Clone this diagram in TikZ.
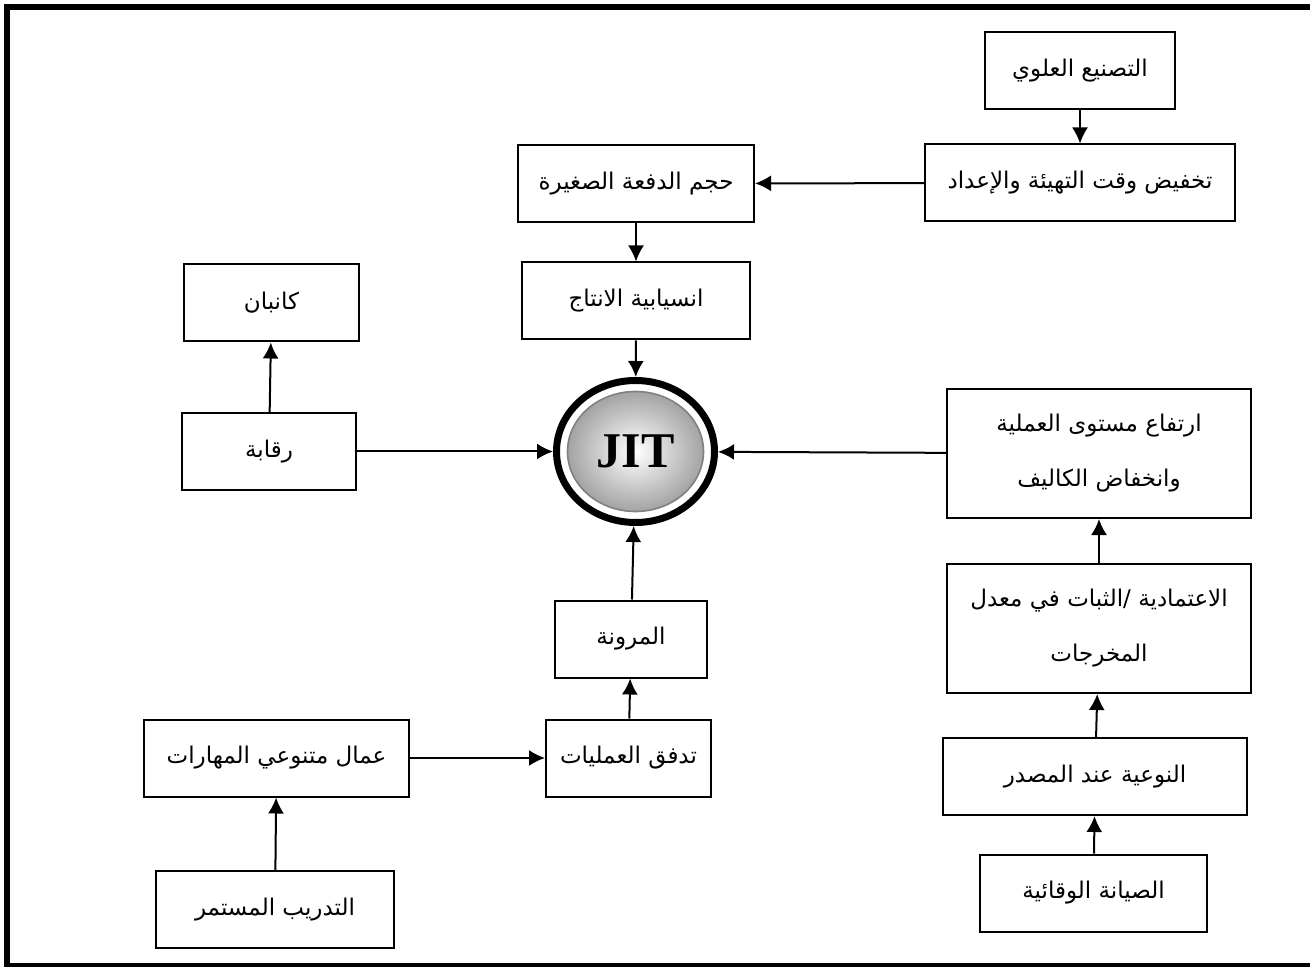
\documentclass[tikz,border=0pt]{standalone}
\usepackage{fontspec}
\setmainfont{Liberation Serif}
\newfontfamily\arabicfont[Script=Arabic]{DejaVu Sans}
\TeXXeTstate=1
\usepackage{tikz}
\usetikzlibrary{
  arrows.meta,
  shapes.geometric,
  chains,
  scopes,
  positioning
}

\begin{document}
\begin{tikzpicture}[
      x=0.5pt, y=-0.5pt,
      block/.style={
         rectangle,
         draw=black,
         line width=1pt,
         minimum height=38.5pt,
         inner sep=2pt,
         font=\arabicfont\fontsize{11.5}{13.5}\selectfont
      },
      tallblock/.style={
         block,
         minimum height=64.5pt,
         align=center
      },
      hub/.style={
         ellipse,
         draw=black,
         line width=3.5pt,
         minimum width=79pt,
         minimum height=71pt,
         inner sep=0pt,
         font=\bfseries\fontsize{25}{28}\selectfont
      },
      >={Latex[length=8pt,width=8pt]},line width=1pt,
      tip/.style={->}
    ]
    \useasboundingbox (0,0) rectangle (1310,967);
    \begin{scope}
      \clip (0,0) rectangle (1310,967);
      \draw[line width=3pt] (7,7.5) rectangle (1316,966);
    \end{scope}
    % centre
    \coordinate (jitc) at (635.5,451.5);
    \shade[inner color=white, outer color=black!36, draw=black!50, line width=0.8pt]
       (jitc) ellipse [x radius=68, y radius=60];
    \node (jit) [hub] at (jitc) {JIT};
    % top
    \node (tasnie)  [block, minimum width=95pt]   at (1080,71)    {\beginR التصنيع العلوي\endR};
    \node (takhfid) [block, minimum width=155pt]  at (1080,183)   {\beginR تخفيض وقت التهيئة والإعداد\endR};
    \node (hajm)    [block, minimum width=118pt]  at (636,183.5)  {\beginR حجم الدفعة الصغيرة\endR};
    \node (insiyab) [block, minimum width=114pt]  at (636,301)    {\beginR انسيابية الانتاج\endR};
    % left
    \node (kanban)  [block, minimum width=87.5pt] at (271.5,303)  {\beginR كانبان\endR};
    \node (raqaba)  [block, minimum width=87pt]   at (269,451.5)  {\beginR رقابة\endR};
    % right
    \node (irtifa)  [tallblock, minimum width=152pt] at (1099,453.5)
       {\beginR ارتفاع مستوى العملية\endR\\[14pt]\beginR وانخفاض الكاليف\endR};
    \node (itimad)  [tallblock, minimum width=152pt] at (1099,628.5)
       {\beginR الاعتمادية /الثبات في معدل\endR\\[14pt]\beginR المخرجات\endR};
    \node (nawia)   [block, minimum width=152pt]  at (1095,776.5) {\beginR النوعية عند المصدر\endR};
    \node (siyana)  [block, minimum width=113.5pt] at (1093.5,893) {\beginR الصيانة الوقائية\endR};
    % bottom
    \node (muruna)  [block, minimum width=76pt]   at (631,639)    {\beginR المرونة\endR};
    \node (tadaffuq) [block, minimum width=82.5pt] at (628.5,758) {\beginR تدفق العمليات\endR};
    \node (ummal)   [block, minimum width=132.5pt] at (276.5,758) {\beginR عمال متنوعي المهارات\endR};
    \node (tadrib)  [block, minimum width=119pt]  at (275,909.5)  {\beginR التدريب المستمر\endR};

  { [start chain]
       \chainin (tasnie);
       \chainin (takhfid)  [join=by tip];
       \chainin (hajm)     [join=by tip];
       \chainin (insiyab)  [join=by tip];
       \chainin (jit)      [join=by tip];
  }
  { [start chain]
       \chainin (raqaba);
       \chainin (jit)      [join=by tip];
  }
  { [start chain]
       \chainin (raqaba);
       \chainin (kanban)   [join=by tip];
  }
  { [start chain]
       \chainin (siyana);
       \chainin (nawia)    [join=by tip];
       \chainin (itimad)   [join=by tip];
       \chainin (irtifa)   [join=by tip];
       \chainin (jit)      [join=by tip];
  }
  { [start chain]
       \chainin (tadrib);
       \chainin (ummal)    [join=by tip];
       \chainin (tadaffuq) [join=by tip];
       \chainin (muruna)   [join=by tip];
       \chainin (jit)      [join=by tip];
  }
\end{tikzpicture}
\end{document}
